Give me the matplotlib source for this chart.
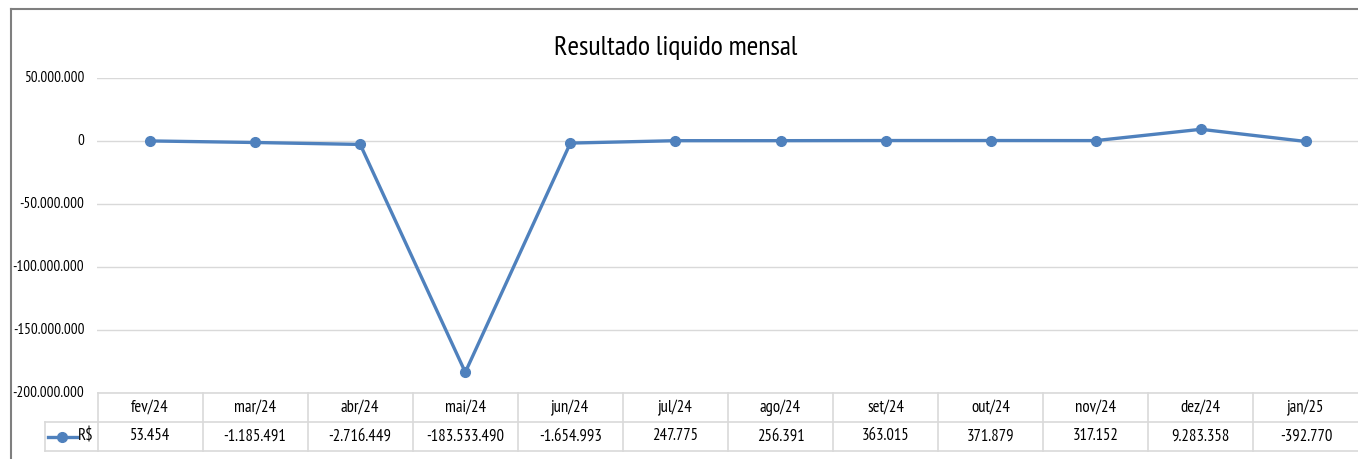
import matplotlib
matplotlib.use("Agg")
import matplotlib.pyplot as plt
from matplotlib.lines import Line2D
from matplotlib.ticker import FuncFormatter

plt.rcParams["font.family"] = ["PT Sans Narrow", "DejaVu Sans"]

# dados
meses = ["fev/24", "mar/24", "abr/24", "mai/24", "jun/24", "jul/24",
         "ago/24", "set/24", "out/24", "nov/24", "dez/24", "jan/25"]
valores = [53454, -1185491, -2716449, -183533490, -1654993, 247775,
           256391, 363015, 371879, 317152, 9283358, -392770]
serie = "R$"
titulo = "Resultado liquido mensal"

AZUL = "#4F81BD"
GRADE = "#D9D9D9"
W, H = 1358, 459

def fmt_br(v):
    s = f"{abs(int(round(v))):,}".replace(",", ".")
    return ("-" if v < 0 else "") + s

fig = plt.figure(figsize=(W / 100, H / 100), dpi=100)
ax = fig.add_axes([97.5 / W, (H - 393) / H, 1261 / W, 315 / H])

x = list(range(len(meses)))
ax.plot(x, valores, color=AZUL, lw=2.4, marker="o", ms=7, zorder=3, clip_on=False)
ax.set_xlim(-0.5, len(meses) - 0.5)
ax.set_ylim(-200_000_000, 50_000_000)
ax.set_yticks(range(-200_000_000, 50_000_001, 50_000_000))
ax.yaxis.set_major_formatter(FuncFormatter(lambda v, p: fmt_br(v)))
ax.tick_params(axis="y", length=0, pad=9.5, labelsize=10.8)
for lb in ax.get_yticklabels():
    lb.set_verticalalignment("center")
ax.set_xticks([])
for s in ax.spines.values():
    s.set_visible(False)
ax.grid(axis="y", color=GRADE, lw=1)
ax.set_axisbelow(True)

# tabela de dados
tr = ax.get_xaxis_transform()
r1, r2 = -29 / 315, -58 / 315
xe = len(meses) - 0.5
ax.add_line(Line2D([-0.5, xe], [0, 0], transform=tr, color=GRADE, lw=1.2, clip_on=False))
leg_x = -0.5 - 52.5 / 105.1
for yy in (r1, r2):
    ax.add_line(Line2D([leg_x, xe], [yy, yy], transform=tr, color=GRADE, lw=1.2, clip_on=False))
for i in range(len(meses) + 1):
    ax.add_line(Line2D([i - 0.5, i - 0.5], [0, r2], transform=tr, color=GRADE, lw=1.2, clip_on=False))
ax.add_line(Line2D([leg_x, leg_x], [r1, r2], transform=tr, color=GRADE, lw=1.2, clip_on=False))
for i, (m, v) in enumerate(zip(meses, valores)):
    ax.text(i, r1 / 2, m, transform=tr, ha="center", va="center", fontsize=12, color="#000000")
    ax.text(i, (r1 + r2) / 2, fmt_br(v), transform=tr, ha="center", va="center", fontsize=12, color="#000000")
# legenda dentro da tabela
ym = (r1 + r2) / 2
ax.add_line(Line2D([leg_x + 0.03, leg_x + 0.3], [ym, ym], transform=tr, color=AZUL, lw=2.4,
                   clip_on=False))
ax.add_line(Line2D([leg_x + 0.165], [ym], transform=tr, color=AZUL, marker="o", ms=7, clip_on=False))
ax.text(-0.5 - 0.04, ym, serie, transform=tr, ha="right", va="center", fontsize=12)

# titulo
fig.text(676 / W, 1 - 55 / H, titulo, ha="center", va="baseline", fontsize=20.2)

# moldura do grafico
fig.add_artist(Line2D([11 / W, 11 / W], [0, 1 - 9 / H], transform=fig.transFigure, color="#7F7F7F", lw=1.5))
fig.add_artist(Line2D([11 / W, 1], [1 - 9 / H, 1 - 9 / H], transform=fig.transFigure, color="#7F7F7F", lw=1.5))

fig.savefig("out.png", dpi=100)
